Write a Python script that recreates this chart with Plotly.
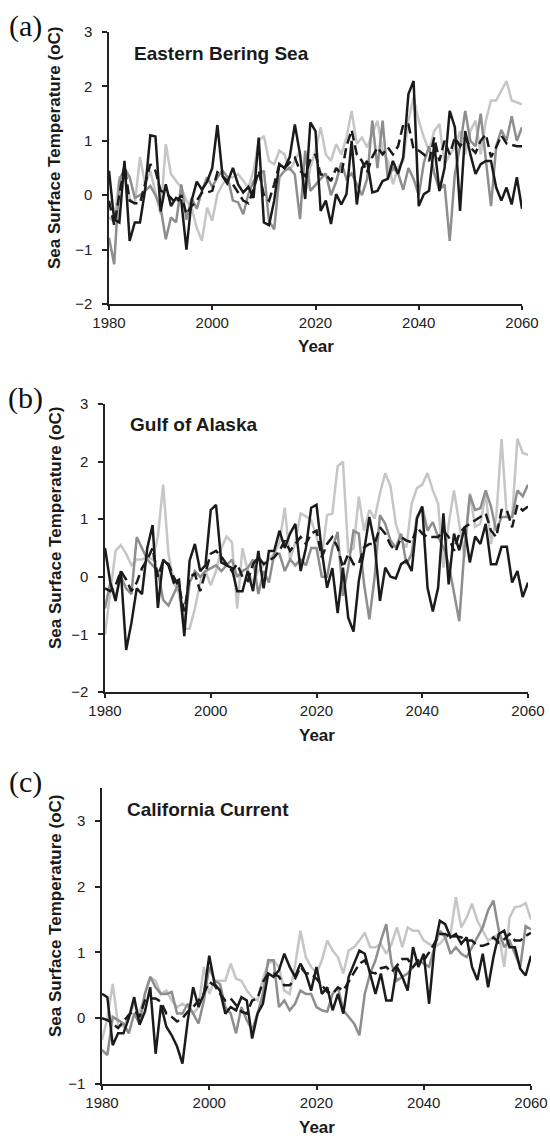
import plotly.graph_objects as go

W, H = 550, 1140
years = list(range(1980, 2061))

# ---------------- Panel (a) Eastern Bering Sea ----------------
a_black = [0.45, -0.45, -0.5, 0.63, -0.84, -0.5, -0.5, 0.1, 1.1, 1.08,
           -0.3, 0.2, -0.2, -0.05, -0.1, -1.0, -0.1, 0.25, 0.1, 0.25,
           0.5, 1.29, 0.35, 0.25, 0.5, 0.2, 0.05, 0.15, -0.05, 1.06,
           -0.5, -0.55, -0.1, 0.57, 0.5, 0.7, 1.3, 0.75, -0.07, 1.34,
           1.18, -0.29, -0.1, -0.53, 0.02, -0.17, 0.02, 1.0, -0.17, 0.5,
           0.63, 0.05, 0.08, 0.26, 0.3, 0.63, 0.39, 0.7, 1.86, 2.1,
           -0.2, 0.02, 0.08, 0.94, 0.08, 0.5, 1.55, 1.25, -0.29, 1.18,
           0.75, 0.39, 0.57, 0.63, 0.63, 0.14, -0.1, 0.14, -0.17, 0.33,
           -0.25]
a_dgray = [-0.78, -1.27, 0.26, 0.5, 0.33, -0.05, 0.0, 0.08, 0.17, 0.0,
           -0.23, -0.81, -0.41, -0.5, 0.2, -0.45, -0.05, -0.25, 0.08, 0.33,
           0.15, 0.33, 0.45, 0.33, -0.1, -0.13, -0.35, 0.02, 0.26, 0.38,
           0.45, -0.47, -0.63, 0.33, 0.45, 0.5, 0.38, -0.44, 0.82, 0.08,
           0.2, 0.3, 0.4, 0.0, 0.25, 0.6, 0.3, 0.4, 0.2, 0.0,
           0.3, 1.37, 0.5, 1.37, 0.3, 0.5, 0.4, 0.1, 0.5, 0.3,
           0.0, 0.6, 0.9, 0.4, 0.1, 0.2, -0.84, 0.4, 0.9, 1.55,
           1.0, 0.9, 1.5, 0.6, -0.2, 0.9, 1.2, 1.0, 1.45, 1.0,
           1.25]
a_lgray = [-0.4, -0.5, 0.33, 0.33, -0.05, -0.17, 0.7, 0.2, 0.45, 0.02,
           -0.35, 0.94, 0.39, 0.26, 0.14, -0.1, -0.23, -0.6, -0.84, -0.23,
           -0.47, 0.02, 0.2, 0.33, 0.33, 0.39, 0.26, 0.14, 0.45, 1.0,
           1.09, 0.63, 0.57, 0.82, 0.75, 0.45, 0.63, 0.82, 0.02, 0.51,
           0.82, 1.25, 0.75, 0.63, 0.94, 0.75, 1.06, 1.55, 0.94, 1.06,
           0.88, 1.12, 1.37, 0.82, 0.63, 0.2, 0.51, 0.63, 1.37, 1.8,
           1.37, 1.06, 0.82, 1.18, 1.31, 0.57, 0.75, 0.88, 1.18, 0.75,
           1.18, 1.37, 0.75, 1.37, 1.74, 1.74, 1.92, 2.1, 1.74, 1.7,
           1.67]
a_dash = [-0.1, -0.55, 0.0, 0.55, -0.1, -0.15, -0.15, 0.2, 0.57, 0.45,
          0.08, 0.05, -0.05, -0.15, 0.0, -0.35, -0.2, -0.1, 0.05, 0.05,
          0.08, 0.42, 0.35, 0.2, 0.2, 0.05, -0.1, -0.15, 0.1, 0.45,
          0.0, -0.1, 0.2, 0.57, 0.5, 0.6, 0.69, 0.45, 0.35, 0.65,
          0.75, 0.38, 0.38, 0.26, 0.5, 0.38, 0.9, 1.2, 0.75, 0.63,
          0.42, 0.7, 0.88, 0.75, 0.88, 0.75, 0.9, 1.3, 1.3, 0.85,
          0.82, 0.75, 0.63, 1.06, 0.63, 1.0, 0.75, 1.06, 0.9, 1.06,
          0.88, 0.78, 1.0, 1.12, 0.7, 0.88, 1.1, 0.95, 0.92, 0.9,
          0.9]

# ---------------- Panel (b) Gulf of Alaska ----------------
b_black = [0.5, -0.1, -0.42, 0.1, -1.27, -0.8, -0.2, -0.3, 0.5, 0.9,
           -0.54, 0.3, 0.2, -0.1, -0.05, -1.03, 0.28, 0.57, 0.1, 0.2,
           1.16, 1.25, 0.25, 0.2, 0.15, -0.25, -0.25, 0.1, -0.25, 0.45,
           -0.2, 0.45, 0.45, 0.8, 0.5, 0.75, 0.92, 0.1, 0.5, 1.2,
           1.25, 0.45, -0.19, 0.15, -0.63, 0.16, -0.71, -0.95, -0.07, 0.45,
           1.04, 0.57, -0.42, 0.16, 0.0, -0.03, 0.22, 0.28, 0.1, 1.01,
           1.22, -0.19, -0.6, -0.19, 1.1, -0.13, 0.75, 0.46, 0.86, 0.25,
           0.7, 0.57, 0.92, 0.22, 0.22, 0.52, 0.52, -0.1, 0.1, -0.35,
           -0.1]
b_dgray = [-0.55, -0.1, -0.35, 0.0, -0.2, -0.3, 0.69, 0.5, 0.3, 0.2,
           0.1, -0.4, -0.5, -0.3, -0.1, -0.9, -0.1, 0.1, 0.0, 0.1,
           0.15, 0.2, 0.1, 0.2, 0.3, 0.0, 0.1, 0.15, 0.3, -0.3,
           0.1, -0.1, 0.4, 0.4, 0.1, 0.3, 0.2, 0.3, 0.2, 0.5,
           0.5, 0.0, 0.0, 0.5, 0.78, -0.33, 0.16, 0.8, 0.75, -0.13,
           -0.74, 0.0, 1.07, 0.92, 0.63, 0.51, 0.75, 0.22, 0.4, 1.04,
           1.22, 0.8, 0.95, 0.69, 0.51, 0.22, -0.3, -0.77, 0.51, 1.42,
           1.16, 1.19, 1.5, 1.22, 0.8, 1.04, 1.04, 1.04, 1.5, 1.4,
           1.6]
b_lgray = [-1.0, -0.3, 0.45, 0.55, 0.4, 0.2, 0.3, 0.3, 0.35, 0.3,
           0.7, 1.6, 0.4, -0.1, -0.3, -0.9, -0.9, -0.55, -0.1, 0.1,
           -0.15, 0.1, 0.5, 0.7, 0.6, -0.55, 0.5, 0.1, -0.1, 0.1,
           0.2, 0.3, 0.4, 0.6, 1.2, 0.3, 0.6, 1.1, 1.05, 0.98,
           0.7, 0.34, 1.07, 1.1, 1.92, 2.0, 0.43, 0.49, 1.39, 0.8,
           1.16, 1.01, 1.45, 1.8, 1.57, 0.92, 0.63, 0.51, 1.27, 1.54,
           1.6, 1.8, 1.5, 1.27, 0.16, 0.92, 1.5, 0.92, 0.34, 1.45,
           0.87, 0.92, 1.45, 0.57, 1.04, 2.39, 1.04, 1.04, 2.4, 2.15,
           2.12]
b_dash = [-0.2, -0.25, -0.15, 0.1, -0.05, -0.25, -0.1, 0.15, 0.3, 0.5,
          0.0, 0.28, 0.22, 0.0, -0.18, -0.6, 0.0, 0.05, -0.25, 0.1,
          0.4, 0.45, 0.35, 0.22, 0.1, 0.22, 0.0, -0.07, 0.22, 0.34,
          0.22, 0.28, 0.34, 0.45, 0.63, 0.45, 0.57, 0.69, 0.57, 0.75,
          0.8, 0.34, 0.57, 0.69, 0.51, 0.16, 0.4, 0.22, 0.22, 0.51,
          0.57, 0.57, 0.86, 0.75, 0.55, 0.45, 0.69, 0.63, 0.6, 0.86,
          0.75, 0.69, 0.69, 0.69, 0.8, 0.69, 0.45, 0.75, 0.86, 0.92,
          0.98, 1.04, 1.1, 0.8, 0.69, 1.16, 1.16, 0.86, 1.25, 1.15,
          1.22]

# ---------------- Panel (c) California Current ----------------
c_black = [0.37, 0.32, -0.41, -0.23, -0.23, 0.0, 0.32, -0.1, 0.1, 0.47,
           -0.54, 0.2, -0.13, -0.26, -0.43, -0.69, -0.03, 0.47, 0.17, 0.37,
           0.95, 0.52, 0.42, 0.07, 0.17, 0.12, 0.32, 0.27, -0.31, 0.07,
           0.22, 0.68, 0.63, 0.73, 0.98, 0.78, 0.63, 0.83, 0.68, 0.42,
           0.78, 0.37, 0.47, 0.12, 0.37, 0.07, 0.63, 0.83, 1.03, 0.98,
           0.68, 0.37, 0.68, 0.27, 0.27, 0.78, 0.63, 0.42, 1.08, 0.78,
           0.98, 0.22, 1.08, 1.48, 1.43, 1.23, 1.28, 1.13, 1.23, 0.78,
           0.58, 0.98, 0.47, 0.93, 1.28, 1.33, 1.08, 1.08, 0.75, 0.65,
           0.95]
c_dgray = [-0.48, -0.56, 0.02, -0.03, -0.08, -0.23, 0.07, -0.08, 0.37, 0.63,
           0.47, 0.37, 0.37, 0.4, 0.07, 0.07, 0.22, 0.07, -0.08, 0.27,
           0.78, 0.57, 0.52, 0.17, 0.07, -0.23, 0.17, -0.03, -0.18, 0.07,
           0.37, 0.88, 0.88, 0.17, 0.27, 0.12, 0.22, 0.42, 0.37, 0.37,
           0.17, 0.12, 0.1, 0.37, 0.47, 0.12, 0.02, -0.08, -0.26, 0.37,
           0.68, 0.88, 1.18, 1.43, 0.83, 0.57, 0.63, 0.68, 0.78, 0.88,
           0.83, 0.78, 1.08, 1.33, 1.23, 0.98, 1.08, 0.98, 0.93, 1.08,
           1.23, 1.38, 1.64, 1.79, 1.33, 1.08, 1.18, 0.98, 0.78, 1.4,
           1.35]
c_lgray = [-0.33, 0.0, 0.52, -0.1, -0.13, 0.02, 0.22, 0.07, 0.37, 0.62,
           0.57, 0.37, 0.42, 0.27, 0.17, 0.22, 0.17, 0.07, 0.17, 0.78,
           0.37, 0.57, 0.57, 0.57, 0.83, 0.6, 0.57, 0.42, 0.32, 0.27,
           0.6, 0.83, 0.88, 0.78, 0.42, 0.37, 0.8, 1.33, 0.93, 0.78,
           0.68, 0.88, 1.18, 1.03, 0.93, 0.68, 1.03, 1.08, 1.18, 1.3,
           1.08, 1.08, 1.13, 0.98, 1.13, 1.38, 1.08, 1.38, 1.33, 1.33,
           1.18, 1.13, 1.08, 1.13, 1.23, 1.28, 1.84, 1.38, 1.53, 1.74,
           1.48, 1.33, 1.18, 1.23, 1.28, 0.78, 1.53, 1.69, 1.7, 1.75,
           1.5]
c_dash = [0.0, -0.03, -0.08, -0.15, -0.05, 0.05, 0.12, 0.02, 0.27, 0.3,
          0.3, 0.25, 0.07, 0.02, -0.05, 0.0, 0.1, 0.17, 0.27, 0.38,
          0.55, 0.5, 0.37, 0.27, 0.3, 0.2, 0.1, 0.07, 0.27, 0.3,
          0.55, 0.68, 0.68, 0.63, 0.5, 0.5, 0.6, 0.78, 0.68, 0.68,
          0.6, 0.5, 0.4, 0.37, 0.47, 0.42, 0.55, 0.7, 0.83, 0.88,
          0.7, 0.68, 0.76, 0.78, 0.7, 0.8, 0.9, 0.9, 0.78, 0.88,
          0.88, 1.0, 1.15, 1.28, 1.28, 1.23, 1.25, 1.23, 1.18, 1.18,
          1.1, 1.1, 1.13, 1.23, 1.15, 1.2, 1.28, 1.18, 1.18, 1.25,
          1.3]

panel_titles = ["Eastern Bering Sea", "Gulf of Alaska", "California Current"]
panel_letters = ["(a)", "(b)", "(c)"]
y_ranges = [[-2, 3], [-2, 3], [-1, 3.5]]
y_ticks = [[-2, -1, 0, 1, 2, 3], [-2, -1, 0, 1, 2, 3], [-1, 0, 1, 2, 3]]
x_ticks = [1980, 2000, 2020, 2040, 2060]
y_title = "Sea Surface Temperature (oC)"
x_title = "Year"

panels = [
    (a_lgray, a_dgray, a_black, a_dash),
    (b_lgray, b_dgray, b_black, b_dash),
    (c_lgray, c_dgray, c_black, c_dash),
]

# plot-area pixel boxes (left, right, top, bottom)
boxes = [(109, 522, 32, 304), (105, 528, 404, 692), (102, 531, 788, 1084)]

BLACK = "#1b1b1b"
DGRAY = "#8e8e8e"
LGRAY = "#c6c6c6"
styles = [(LGRAY, "solid"), (DGRAY, "solid"), (BLACK, "solid"), (BLACK, "10px,5px")]

def px(x):
    return x / W

def py(y):
    return 1 - y / H

fig = go.Figure()
layout = {}
annotations = []
for i, (series, box) in enumerate(zip(panels, boxes)):
    l, r, t, b = box
    xa = "x" if i == 0 else f"x{i+1}"
    ya = "y" if i == 0 else f"y{i+1}"
    for vals, (col, dash) in zip(series, styles):
        fig.add_trace(go.Scatter(x=years, y=vals, mode="lines", xaxis=xa, yaxis=ya,
                                 line=dict(color=col, width=2.5, dash=dash),
                                 showlegend=False, hoverinfo="skip"))
    key = "" if i == 0 else str(i + 1)
    layout["xaxis" + key] = dict(
        domain=[px(l), px(r)], anchor=ya, range=[1980, 2060], automargin=False,
        tickvals=x_ticks, ticktext=[str(v) for v in x_ticks],
        showline=True, linecolor="#222", linewidth=1.5, ticks="outside",
        ticklen=4, tickwidth=1.5, tickcolor="#222", showgrid=False, zeroline=False,
        tickfont=dict(family="Liberation Sans, Arial", size=15, color="#222"),
    )
    layout["yaxis" + key] = dict(
        domain=[py(b), py(t)], anchor=xa, range=y_ranges[i], automargin=False,
        tickvals=y_ticks[i], showline=True, linecolor="#222", linewidth=1.5,
        ticks="outside", ticklen=5, tickwidth=1.5, tickcolor="#222",
        ticklabelstandoff=7,
        showgrid=False, zeroline=False,
        tickfont=dict(family="Liberation Sans, Arial", size=15, color="#222"),
    )
    # panel letter
    annotations.append(dict(text=panel_letters[i], x=px(25), y=py(t - 6), xref="paper", yref="paper",
                            xanchor="center", yanchor="middle", showarrow=False,
                            font=dict(family="Liberation Serif, Times New Roman", size=30, color="#111")))
    # panel title
    annotations.append(dict(text="<b>" + panel_titles[i] + "</b>", x=px(l + 23), y=py(t + 21),
                            xref="paper", yref="paper", xanchor="left", yanchor="middle",
                            showarrow=False,
                            font=dict(family="Liberation Sans, Arial", size=19, color="#1a1a1a")))
    # y title
    annotations.append(dict(text="<b>" + y_title + "</b>", x=px(55), y=py((t + b) / 2 - 20),
                            xref="paper", yref="paper", xanchor="center", yanchor="middle",
                            textangle=-90, showarrow=False,
                            font=dict(family="Liberation Sans, Arial", size=17, color="#1a1a1a")))
    # x title
    annotations.append(dict(text="<b>" + x_title + "</b>", x=px((l + r) / 2), y=py(b + 43),
                            xref="paper", yref="paper", xanchor="center", yanchor="middle",
                            showarrow=False,
                            font=dict(family="Liberation Sans, Arial", size=17, color="#1a1a1a")))

fig.update_layout(
    width=W, height=H, margin=dict(l=0, r=0, t=0, b=0, autoexpand=False),
    paper_bgcolor="white", plot_bgcolor="white",
    annotations=annotations, **layout,
)

fig.write_html("out.html")
